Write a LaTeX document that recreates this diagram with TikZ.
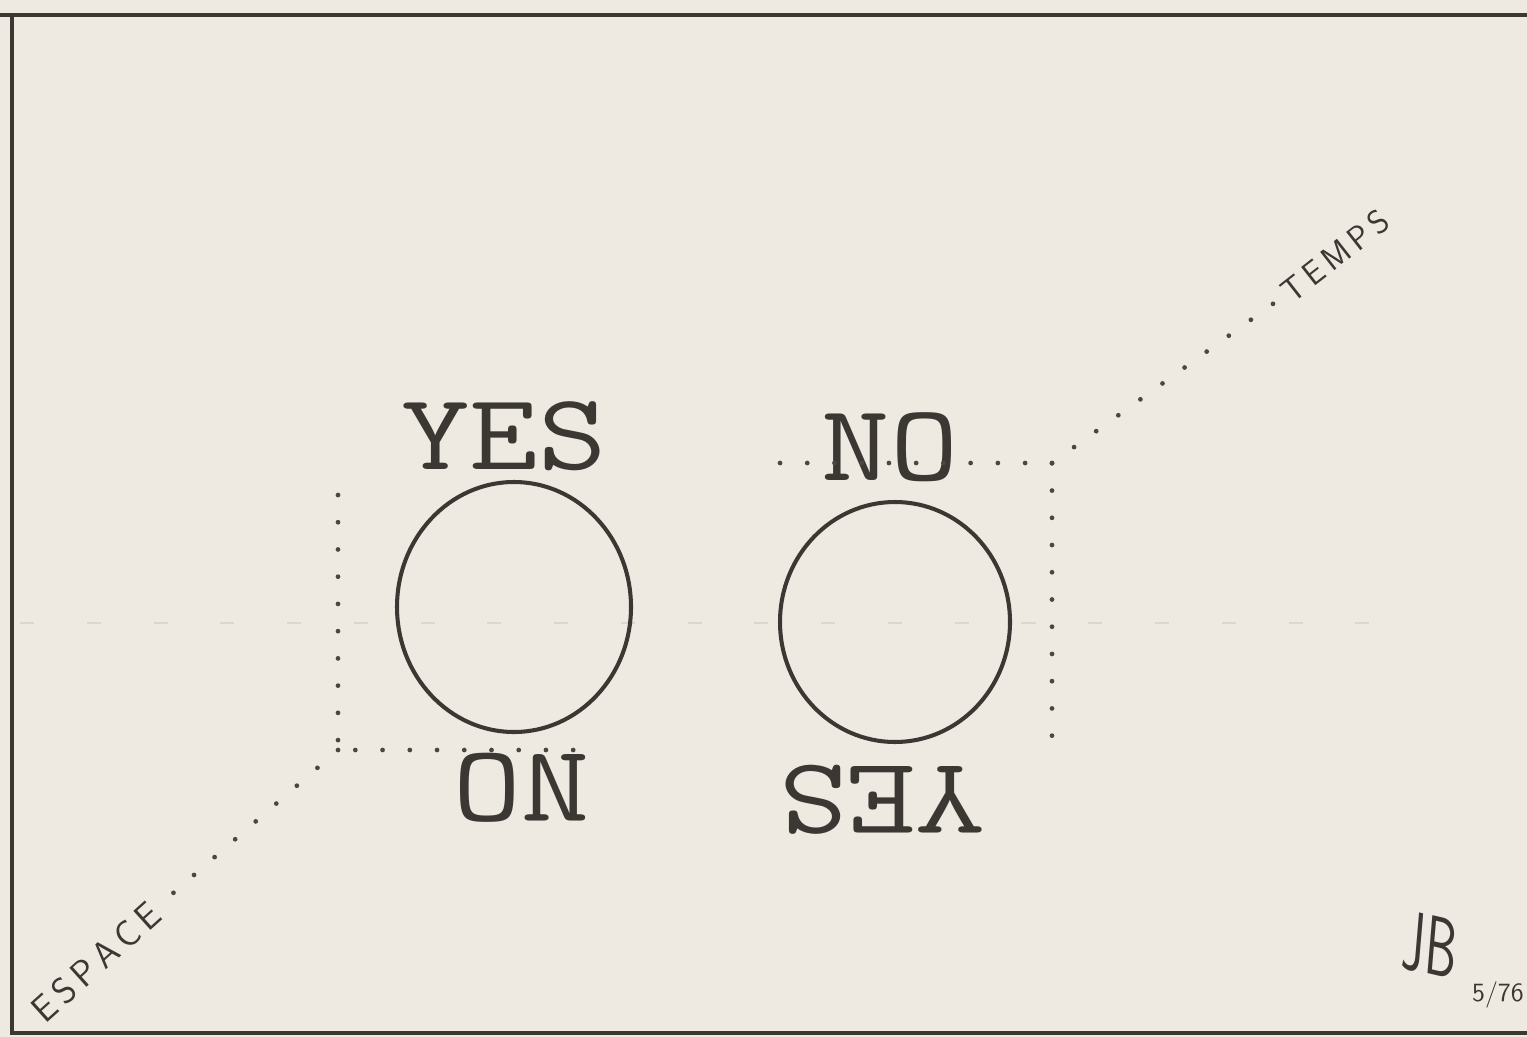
\documentclass[tikz,border=0pt]{standalone}
\usepackage{fontspec}
\definecolor{paper}{HTML}{EEEAE2}
\definecolor{ink}{HTML}{3B3733}
\definecolor{dotgray}{HTML}{4A4642}
\definecolor{faint}{HTML}{DCD6CC}

\begin{document}
\begin{tikzpicture}[x=0.02cm, y=-0.02cm,
  word/.style={font=\ttfamily\fontsize{62}{62}\selectfont, text=ink, inner sep=0pt, xscale=1.22},
  hand/.style={font=\sffamily\fontsize{21}{21}\selectfont, text=ink, inner sep=1pt},
  dotline/.style={dotgray, line width=2.7pt, line cap=round, dash pattern=on 0pt off 15.5pt},
  ring/.style={ink, line width=2.3pt}]

\fill[paper] (0,0) rectangle (1527,1037);
\useasboundingbox (0,0) rectangle (1527,1037);
\clip (0,0) rectangle (1527,1037);

% frame
\draw[ink, line width=2.4pt] (0,15) -- (1527,15);
\draw[ink, line width=2pt] (12,15) -- (12,1033) -- (1527,1033);

% faint middle line
\draw[faint, line width=1.2pt, dash pattern=on 8pt off 30pt] (20,623) -- (1420,623);

% the two rings
\coordinate (cL) at (514,607);
\coordinate (cR) at (895,622);
\draw[ring] (cL) ellipse [x radius=117, y radius=125];
\draw[ring] (cR) ellipse [x radius=115, y radius=120];

% words
\node[word] (yesL) at (504,436) {YES};
\node[word, rotate=180] (noL) at (521,788) {NO};
\node[word] (noR) at (890,447) {NO};
\node[word, rotate=180] (yesR) at (882,800) {YES};

\node[hand, rotate=42] (espace) at (96,962) {E\,S\,P\,A\,C\,E};
\node[hand, font=\sffamily\fontsize{19}{19}\selectfont, rotate=38] (temps) at (1335,256) {T\,E\,M\,P\,S};

% dotted lines
\coordinate (ltop) at (338,495);
\coordinate (lcorner) at (338,750);
\coordinate (lend) at (600,750);
\draw[dotline] (ltop) -- (lcorner) -- (lend);
\draw[dotline] (lcorner) -- (espace.east);

\coordinate (rstart) at (780,463);
\coordinate (rcorner) at (1052,463);
\coordinate (rbottom) at (1052,760);
\draw[dotline] (rstart) -- (rcorner) -- (rbottom);
\draw[dotline] (rcorner) -- (temps.west);

% signature
\node[font=\sffamily\fontsize{48}{48}\selectfont, text=ink, xscale=0.6, rotate=-8] (sig) at (1430,945) {JB};
\node[hand, font=\sffamily\fontsize{15}{15}\selectfont, anchor=west] (date) at (1470,995) {5/76};
\end{tikzpicture}
\end{document}
